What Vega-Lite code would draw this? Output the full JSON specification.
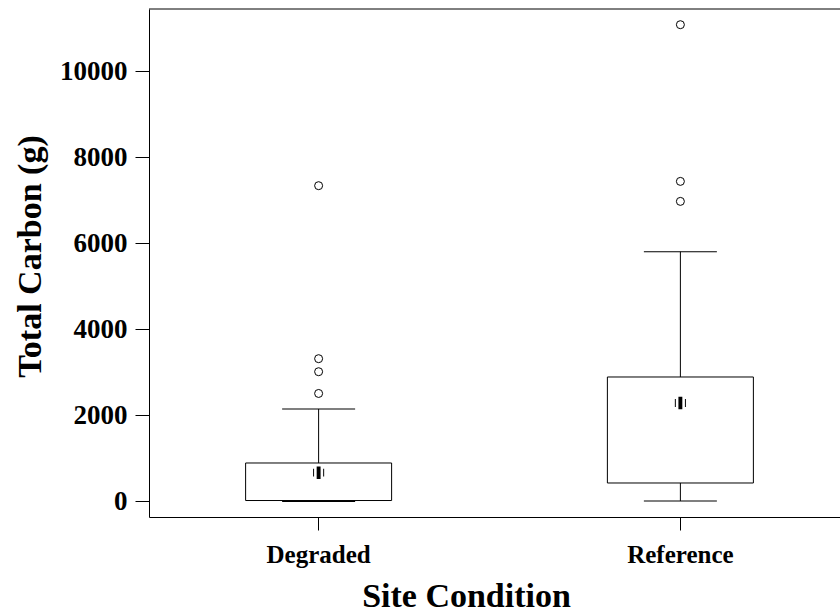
{
  "$schema": "https://vega.github.io/schema/vega-lite/v6.json",
  "autosize": "none",
  "padding": {"left": 149, "top": 9, "right": 0, "bottom": 96},
  "width": 691,
  "height": 508,
  "background": "white",
  "config": {
    "view": {"stroke": null},
    "font": "Liberation Serif",
    "axis": {
      "domainColor": "black",
      "tickColor": "black",
      "labelColor": "black",
      "titleColor": "black",
      "labelFont": "Liberation Serif",
      "titleFont": "Liberation Serif",
      "labelFontWeight": "bold",
      "titleFontWeight": "bold",
      "grid": false,
      "labelFontSize": 25,
      "titleFontSize": 34
    }
  },
  "datasets": {
    "stats": [
      {"condition": "Degraded", "lower": 0, "q1": 20, "q3": 893, "upper": 2149, "mean": 667},
      {"condition": "Reference", "lower": 10, "q1": 428, "q3": 2893, "upper": 5807, "mean": 2288}
    ],
    "outliers": [
      {"condition": "Degraded", "value": 7342},
      {"condition": "Degraded", "value": 3319},
      {"condition": "Degraded", "value": 3016},
      {"condition": "Degraded", "value": 2510},
      {"condition": "Reference", "value": 11086},
      {"condition": "Reference", "value": 7442},
      {"condition": "Reference", "value": 6977}
    ]
  },
  "layer": [
    {
      "data": {"name": "stats"},
      "mark": {"type": "rule", "color": "black", "strokeWidth": 1},
      "encoding": {
        "x": {
          "field": "condition",
          "type": "nominal",
          "sort": ["Degraded", "Reference"],
          "scale": {"range": [0, 701], "paddingInner": 0.4, "paddingOuter": 0.1689, "round": false},
          "axis": {"title": "Site Condition", "labelAngle": 0, "tickSize": 13, "labelPadding": 12, "titlePadding": 12, "titleX": 317}
        },
        "y": {"field": "q3", "type": "quantitative", "scale": {"domain": [-363, 11451], "nice": false, "zero": false},
              "axis": {"title": "Total Carbon (g)", "values": [0, 2000, 4000, 6000, 8000, 10000], "format": "d", "tickSize": 14, "labelPadding": 8, "labelFontSize": 27, "titlePadding": 12, "titleY": 247}},
        "y2": {"field": "upper"}
      }
    },
    {
      "data": {"name": "stats"},
      "mark": {"type": "rule", "color": "black", "strokeWidth": 1},
      "encoding": {
        "x": {"field": "condition", "type": "nominal", "sort": ["Degraded", "Reference"]},
        "y": {"field": "lower", "type": "quantitative"},
        "y2": {"field": "q1"}
      }
    },
    {
      "data": {"name": "stats"},
      "mark": {"type": "tick", "orient": "horizontal", "size": 73, "thickness": 1, "color": "black", "opacity": 1},
      "encoding": {
        "x": {"field": "condition", "type": "nominal", "sort": ["Degraded", "Reference"]},
        "y": {"field": "upper", "type": "quantitative"}
      }
    },
    {
      "data": {"name": "stats"},
      "mark": {"type": "tick", "orient": "horizontal", "size": 73, "thickness": 1, "color": "black", "opacity": 1},
      "encoding": {
        "x": {"field": "condition", "type": "nominal", "sort": ["Degraded", "Reference"]},
        "y": {"field": "lower", "type": "quantitative"}
      }
    },
    {
      "data": {"name": "stats"},
      "mark": {"type": "bar", "width": 146, "fill": "white", "stroke": "black", "strokeWidth": 1},
      "encoding": {
        "x": {"field": "condition", "type": "nominal", "sort": ["Degraded", "Reference"]},
        "y": {"field": "q1", "type": "quantitative"},
        "y2": {"field": "q3"}
      }
    },
    {
      "data": {"name": "stats"},
      "mark": {"type": "point", "shape": "M-0.3,-0.95H0.3V0.95H-0.3Z M-0.85,-0.6H-0.7V0.6H-0.85Z M0.7,-0.6H0.85V0.6H0.7Z", "size": 169, "filled": true, "fill": "black", "strokeWidth": 0, "opacity": 1},
      "encoding": {
        "x": {"field": "condition", "type": "nominal", "sort": ["Degraded", "Reference"]},
        "y": {"field": "mean", "type": "quantitative"}
      }
    },
    {
      "data": {"name": "outliers"},
      "mark": {"type": "point", "shape": "circle", "filled": false, "stroke": "black", "strokeWidth": 1, "size": 64, "opacity": 1},
      "encoding": {
        "x": {"field": "condition", "type": "nominal", "sort": ["Degraded", "Reference"]},
        "y": {"field": "value", "type": "quantitative"}
      }
    },
    {
      "data": {"values": [{}]},
      "mark": {"type": "rule", "color": "black", "strokeWidth": 1},
      "encoding": {"y": {"datum": 11451, "type": "quantitative"}}
    }
  ]
}
